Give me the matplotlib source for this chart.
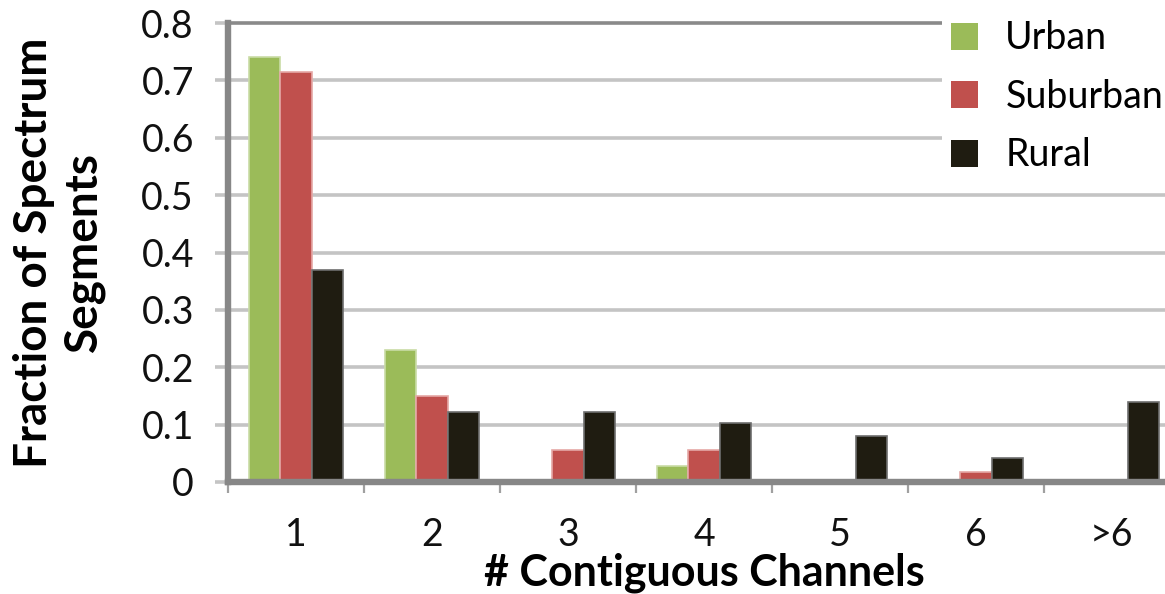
import numpy as np
import matplotlib
matplotlib.use("Agg")
import matplotlib.pyplot as plt

# fraction of spectrum segments by number of contiguous channels
categories = ["1", "2", "3", "4", "5", "6", ">6"]
urban = [0.74, 0.23, 0.0, 0.028, 0.0, 0.0, 0.0]
suburban = [0.715, 0.15, 0.055, 0.055, 0.0, 0.018, 0.0]
rural = [0.37, 0.122, 0.122, 0.102, 0.08, 0.042, 0.14]

series = [
    ("Urban", urban, "#9bbb59", "#c9dca6"),
    ("Suburban", suburban, "#c0504d", "#e5a8a6"),
    ("Rural", rural, "#1f1c11", "#6e6e6e"),
]

plt.rcParams["font.family"] = ["Lato", "DejaVu Sans"]

W, H = 1165, 594
fig = plt.figure(figsize=(W / 100, H / 100), dpi=100)
ax = fig.add_axes([228 / W, 1 - 482 / H, (1180 - 228) / W, (482 - 23) / H])

x = np.arange(len(categories))
width = 0.228
for k, (name, vals, col, edge) in enumerate(series):
    ax.bar(x + (k - 1) * width, vals, width, color=col, edgecolor=edge,
           linewidth=1.2, label=name, zorder=3)

ax.set_xlim(-0.5, len(categories) - 0.5)
ax.set_ylim(0, 0.8)
ax.set_yticks(np.arange(0, 0.81, 0.1))
ax.set_yticklabels(["0"] + ["%.1f" % v for v in np.arange(0.1, 0.81, 0.1)])

# horizontal grid, darker line on top
for v in np.arange(0.1, 0.75, 0.1):
    ax.axhline(v, color="#c4c4c4", lw=2.6, zorder=1)
ax.axhline(0.8, color="#8a8a8a", lw=2.6, zorder=1, clip_on=False)

for s in ["top", "right"]:
    ax.spines[s].set_visible(False)
for s in ["left", "bottom"]:
    ax.spines[s].set_color("#878787")
    ax.spines[s].set_linewidth(4.6)
    ax.spines[s].set_zorder(4)

ax.tick_params(axis="y", length=9.5, width=2.6, color="#c4c4c4", pad=15,
               labelsize=27, labelcolor="#111111")
ax.set_xticks(x)
ax.set_xticklabels(categories)
ax.set_xticks(np.arange(-0.5, len(categories), 1.0), minor=True)
ax.tick_params(axis="x", which="major", length=0, pad=25, labelsize=27,
               labelcolor="#111111")
ax.tick_params(axis="x", which="minor", length=8, width=1.6, color="#a0a0a0")

ax.set_xlabel("# Contiguous Channels", fontsize=31, fontweight="bold",
              labelpad=0)
ax.set_ylabel("Fraction of Spectrum\nSegments", fontsize=33, fontweight="bold",
              labelpad=26, linespacing=1.22)

leg = ax.legend(loc="upper left", bbox_to_anchor=(942 / W, 1 - 11 / H),
                bbox_transform=fig.transFigure, fontsize=27, frameon=True,
                framealpha=1, facecolor="white", edgecolor="none",
                handlelength=0.72, handleheight=0.72, handletextpad=0.72,
                labelspacing=0.6, borderpad=0.25, borderaxespad=0)
leg.set_zorder(5)
for h in leg.legend_handles:
    h.set_edgecolor("none")

fig.savefig("out.png", dpi=100)
